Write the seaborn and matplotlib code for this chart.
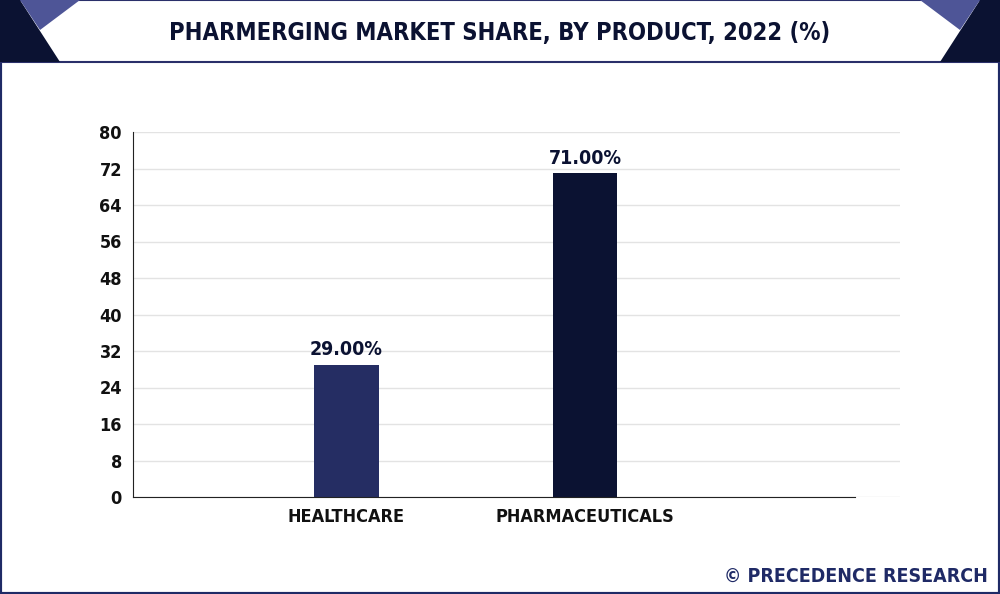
import matplotlib
matplotlib.use("Agg")
import matplotlib.pyplot as plt
import seaborn as sns
import pandas as pd
from matplotlib.patches import Polygon, Rectangle

categories = ["HEALTHCARE", "PHARMACEUTICALS"]
shares = [29.0, 71.0]
labels = ["29.00%", "71.00%"]
yticks = [0, 8, 16, 24, 32, 40, 48, 56, 64, 72, 80]
colors = ["#252d63", "#0b1232"]

navy = "#0b1232"
font = dict(family="DejaVu Sans", stretch="condensed", weight="bold")

df = pd.DataFrame({"product": categories, "share": shares})

fig = plt.figure(figsize=(10, 5.94), dpi=100)
fig.patch.set_facecolor("white")

# frame and title banner
fig.add_artist(Rectangle((0, 0), 1, 1, transform=fig.transFigure, fill=False,
                         edgecolor="#1f2a66", lw=3))
fig.add_artist(Rectangle((0, 1 - 62 / 594), 1, 62 / 594, transform=fig.transFigure,
                         facecolor="white", edgecolor="#2a2f6a", lw=1.5))
def px(x, y):
    return (x / 1000, 1 - y / 594)
for sx in (lambda x: x, lambda x: 1000 - x):
    fig.add_artist(Polygon([px(sx(0), 0), px(sx(20), 0), px(sx(60), 62), px(sx(0), 62)],
                           transform=fig.transFigure, facecolor=navy, edgecolor="none"))
    fig.add_artist(Polygon([px(sx(20), 0), px(sx(80), 0), px(sx(40), 30)],
                           transform=fig.transFigure, facecolor="#4e5597", edgecolor="none"))
fig.text(0.5, 1 - 33 / 594, "PHARMERGING MARKET SHARE, BY PRODUCT, 2022 (%)",
         ha="center", va="center", fontsize=17, color=navy, **font)

ax = fig.add_axes([0.133, 1 - 497 / 594, 0.767, (497 - 132) / 594])
sns.barplot(data=df, x="product", y="share", hue="product", palette=colors,
            width=0.27, legend=False, ax=ax, saturation=1)
ax.set_ylim(0, 80)
ax.set_xlim(-0.895, 2.32)
ax.set_yticks(yticks)
ax.yaxis.grid(True, color="#e3e3e3", lw=1)
ax.set_axisbelow(True)
for s in ("top", "right"):
    ax.spines[s].set_visible(False)
ax.spines["bottom"].set_bounds(-0.895, 2.13)
ax.spines["left"].set_color("#222")
ax.spines["bottom"].set_color("#222")
ax.set_xlabel("")
ax.set_ylabel("")
ax.tick_params(axis="both", length=0, pad=8)
for t in ax.get_xticklabels() + ax.get_yticklabels():
    t.set_fontsize(13)
    t.set_color("#111")
    t.set_fontfamily("DejaVu Sans")
    t.set_fontstretch("condensed")
    t.set_fontweight("bold")
for i, (v, lab) in enumerate(zip(shares, labels)):
    ax.text(i, v + 1.2, lab, ha="center", va="bottom", fontsize=14, color=navy, **font)

fig.text(0.988, 1 - 576 / 594, "© PRECEDENCE RESEARCH", ha="right", va="center",
         fontsize=14, color="#1f2a66", **font)

fig.savefig("out.png", dpi=100)
